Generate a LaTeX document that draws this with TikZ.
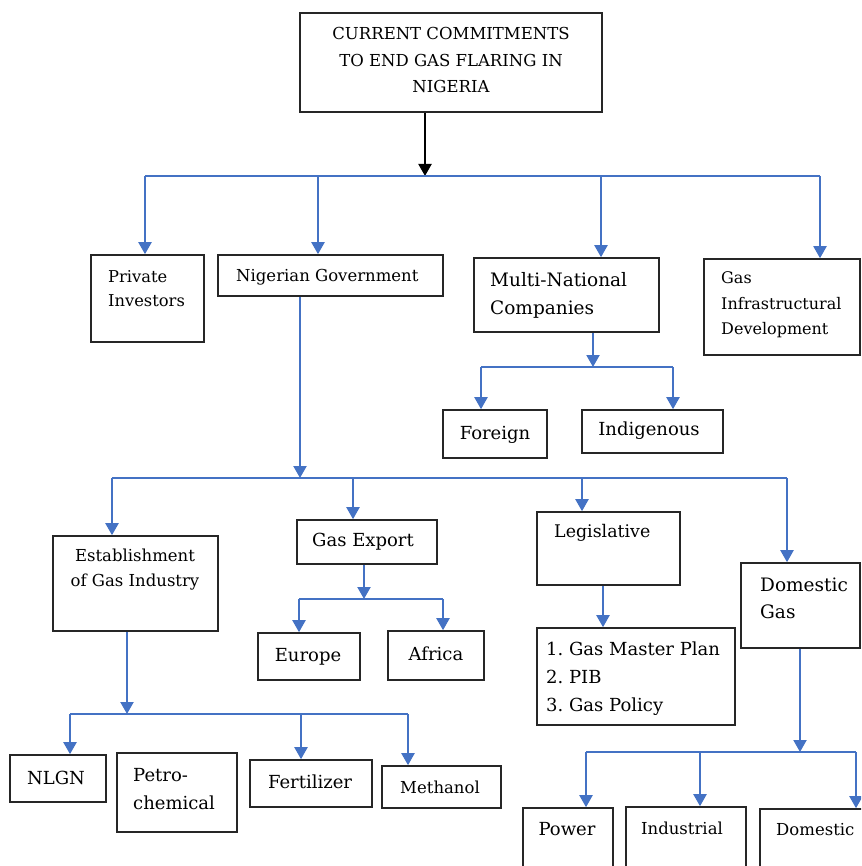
\documentclass[tikz,border=0pt]{standalone}
\usepackage{fontspec}
\setmainfont{DejaVu Serif}
\usetikzlibrary{fit,arrows.meta,calc}
\definecolor{arrblue}{HTML}{4472C4}
\tikzset{
  box/.style={draw=black!85, line width=1.6pt, inner sep=0pt},
  txt/.style={font=\fontsize{18}{28}\selectfont, align=left, inner sep=0pt, text=black},
  stxt/.style={txt, font=\fontsize{16.5}{25}\selectfont},
  blu/.style={draw=arrblue, line width=2.1pt},
  barrow/.style={blu, -{Triangle[width=13pt,length=12pt]}},
  karrow/.style={draw=black, line width=2.1pt, -{Triangle[width=13pt,length=12pt]}},
}
\begin{document}
\begin{tikzpicture}[x=1pt,y=-1pt]
\useasboundingbox (0,0) rectangle (861,866);
\clip (0,0) rectangle (861,866);
\fill[white] (0,0) rectangle (861,866);

% ---- boxes ----
\node[box, fit={(300,13)(602,112)}] (top) {};
\node[txt, align=center, font=\fontsize{16.5}{26.5}\selectfont] (topT) at (451,60) {CURRENT COMMITMENTS\\TO END GAS FLARING IN\\NIGERIA};

\node[box, fit={(91,255)(204,342)}] (pi) {};
\node[stxt, anchor=west, font=\fontsize{16.3}{24}\selectfont] (piT) at (108,289) {Private\\Investors};

\node[box, fit={(218,255)(443,296)}] (ng) {};
\node[stxt, anchor=west] (ngT) at (236,277) {Nigerian Government};

\node[box, fit={(474,258)(659,332)}] (mn) {};
\node[txt, anchor=west, font=\fontsize{18.5}{28}\selectfont] (mnT) at (490,295) {Multi-National\\Companies};

\node[box, fit={(704,259)(860,355)}] (gi) {};
\node[stxt, anchor=west, font=\fontsize{16}{25.5}\selectfont] (giT) at (721,305) {Gas\\Infrastructural\\Development};

\node[box, fit={(443,410)(547,458)}] (fo) {};
\node[txt] (foT) at (495,435) {Foreign};

\node[box, fit={(582,410)(723,453)}] (in) {};
\node[txt] (inT) at (649,431) {Indigenous};

\node[box, fit={(53,536)(218,631)}] (es) {};
\node[stxt, align=center] (esT) at (135,570) {Establishment\\of Gas Industry};

\node[box, fit={(297,520)(437,564)}] (ge) {};
\node[txt] (geT) at (363,542) {Gas Export};

\node[box, fit={(537,512)(680,585)}] (le) {};
\node[txt, anchor=west, font=\fontsize{17.4}{25}\selectfont] (leT) at (554,533) {Legislative};

\node[box, fit={(741,563)(860,648)}] (dg) {};
\node[txt, anchor=west, font=\fontsize{18.5}{27}\selectfont] (dgT) at (760,598) {Domestic\\Gas};

\node[box, fit={(258,633)(360,680)}] (eu) {};
\node[txt] (euT) at (308,657) {Europe};

\node[box, fit={(388,631)(484,680)}] (af) {};
\node[txt] (afT) at (436,654) {Africa};

\node[box, fit={(537,628)(735,725)}] (li) {};
\node[txt, anchor=west] (liT) at (546,679) {1.\ Gas Master Plan\\2.\ PIB\\3.\ Gas Policy};

\node[box, fit={(10,755)(106,802)}] (nl) {};
\node[txt] (nlT) at (56,778) {NLGN};

\node[box, fit={(117,753)(237,832)}] (pc) {};
\node[txt, anchor=west] (pcT) at (133,789) {Petro-\\chemical};

\node[box, fit={(250,760)(372,807)}] (fe) {};
\node[txt] (feT) at (310,782) {Fertilizer};

\node[box, fit={(382,766)(501,808)}] (me) {};
\node[stxt] (meT) at (440,787) {Methanol};

\node[box, fit={(523,808)(613,900)}] (po) {};
\node[txt] (poT) at (567,829) {Power};

\node[box, fit={(626,807)(746,900)}] (ind) {};
\node[stxt] (indT) at (682,828) {Industrial};

\node[box, fit={(760,809)(900,900)}] (do) {};
\node[stxt, anchor=west] (doT) at (776,830) {Domestic};

% ---- level 1 ----
\coordinate (b1) at (425,176);
\draw[karrow] (top.south -| b1) -- (b1);
\coordinate (b1L) at (145,176);
\coordinate (b1R) at (820,176);
\draw[blu] (b1L) -- (b1R);
\coordinate (d1) at (318,176);
\coordinate (d2) at (601,176);
\draw[barrow] (b1L) -- (b1L |- pi.north);
\draw[barrow] (d1) -- (d1 |- ng.north);
\draw[barrow] (d2) -- (d2 |- mn.north);
\draw[barrow] (b1R) -- (b1R |- gi.north);

% ---- multi-national ----
\coordinate (b2) at (593,367);
\draw[barrow] (mn.south -| b2) -- (b2);
\coordinate (b2L) at (481,367);
\coordinate (b2R) at (673,367);
\draw[blu] (b2L) -- (b2R);
\draw[barrow] (b2L) -- (b2L |- fo.north);
\draw[barrow] (b2R) -- (b2R |- in.north);

% ---- government ----
\coordinate (b3) at (300,478);
\draw[barrow] (ng.south -| b3) -- (b3);
\coordinate (b3L) at (112,478);
\coordinate (b3R) at (787,478);
\draw[blu] (b3L) -- (b3R);
\coordinate (d3) at (353,478);
\coordinate (d4) at (582,478);
\draw[barrow] (b3L) -- (b3L |- es.north);
\draw[barrow] (d3) -- (d3 |- ge.north);
\draw[barrow] (d4) -- (d4 |- le.north);
\draw[barrow] (b3R) -- (b3R |- dg.north);

% ---- gas export ----
\coordinate (b4) at (364,599);
\draw[barrow] (ge.south -| b4) -- (b4);
\coordinate (b4L) at (299,599);
\coordinate (b4R) at (443,599);
\draw[blu] (b4L) -- (b4R);
\draw[barrow] (b4L) -- (b4L |- eu.north);
\draw[barrow] (b4R) -- (b4R |- af.north);

% ---- legislative ----
\coordinate (b5) at (603,600);
\draw[barrow] (le.south -| b5) -- (b5 |- li.north);

% ---- establishment ----
\coordinate (b6) at (127,714);
\draw[barrow] (es.south -| b6) -- (b6);
\coordinate (b6L) at (70,714);
\coordinate (b6R) at (408,714);
\draw[blu] (b6L) -- (b6R);
\coordinate (d6) at (301,714);
\draw[barrow] (b6L) -- (b6L |- nl.north);
\draw[barrow] (d6) -- (d6 |- fe.north);
\draw[barrow] (b6R) -- (b6R |- me.north);

% ---- domestic gas ----
\coordinate (b7) at (800,752);
\draw[barrow] (dg.south -| b7) -- (b7);
\coordinate (b7L) at (586,752);
\coordinate (b7R) at (856,752);
\draw[blu] (b7L) -- (b7R);
\coordinate (d7) at (700,752);
\draw[barrow] (b7L) -- (b7L |- po.north);
\draw[barrow] (d7) -- (d7 |- ind.north);
\draw[barrow] (b7R) -- (b7R |- do.north);
\end{tikzpicture}
\end{document}
